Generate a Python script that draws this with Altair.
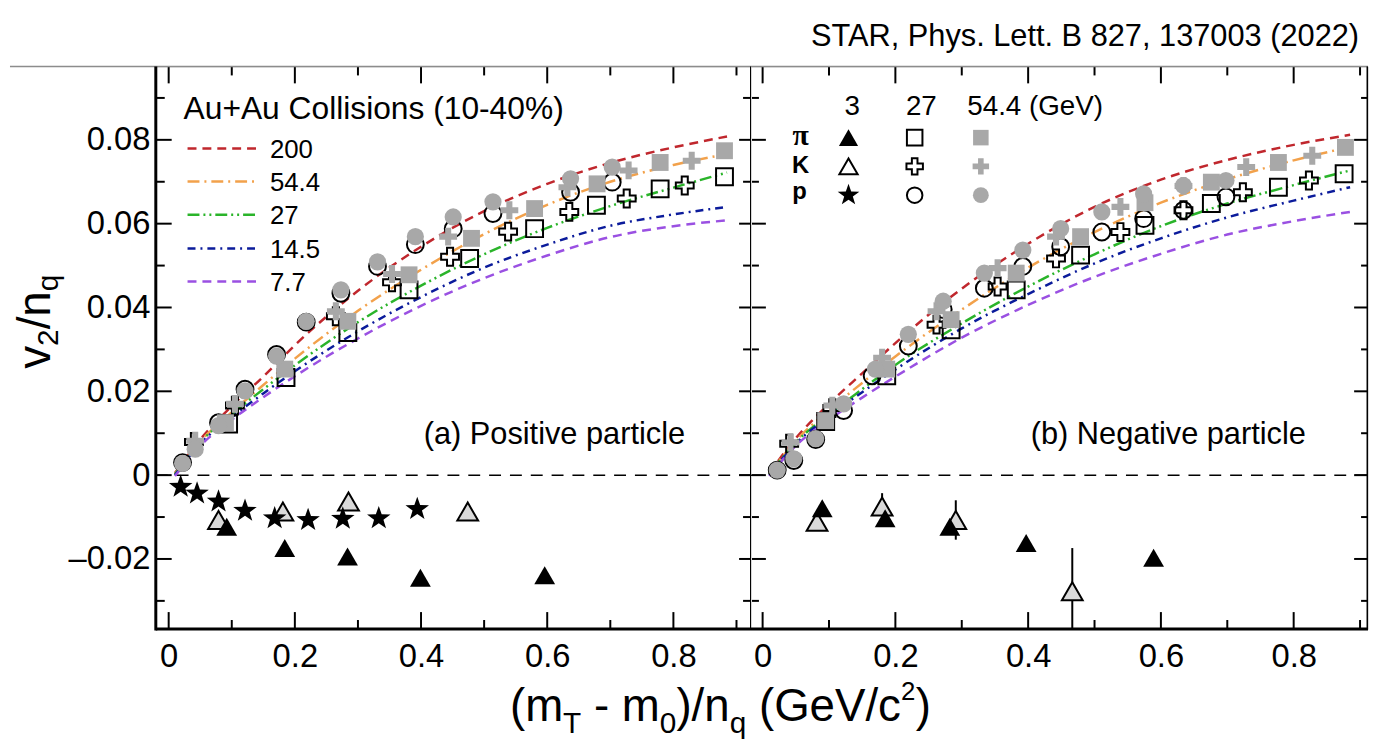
import altair as alt
import pandas as pd

FONT = "Liberation Sans"
H = 567
W_L, W_R = 600, 622
Y_DOMAIN = [-0.0367, 0.0975]
X_DOMAIN_L = [-0.0204, 0.923]
X_DOMAIN_R = [-0.0175, 0.912]

# ---------------- data: positive particles (left panel) ----------------
L_pi27_x = [0.095, 0.186, 0.284, 0.381, 0.477, 0.580, 0.678, 0.779, 0.881]
L_pi27_y = [0.0122, 0.0233, 0.0340, 0.0442, 0.0517, 0.0588, 0.0644, 0.0683, 0.0712]
L_pi54_x = [0.090, 0.184, 0.284, 0.381, 0.480, 0.580, 0.679, 0.779, 0.881]
L_pi54_y = [0.0125, 0.0253, 0.0367, 0.0478, 0.0565, 0.0636, 0.0695, 0.0746, 0.0774]
L_K27_x = [0.040, 0.105, 0.265, 0.354, 0.446, 0.538, 0.635, 0.726, 0.818]
L_K27_y = [0.0079, 0.0166, 0.0379, 0.0460, 0.0521, 0.0581, 0.0628, 0.0660, 0.0691]
L_K54_x = [0.042, 0.105, 0.265, 0.354, 0.443, 0.540, 0.632, 0.729, 0.829]
L_K54_y = [0.0082, 0.0170, 0.0391, 0.0480, 0.0569, 0.0632, 0.0687, 0.0727, 0.0750]
L_p27_x = [0.022, 0.079, 0.121, 0.171, 0.218, 0.273, 0.331, 0.391, 0.451, 0.514, 0.637, 0.703]
L_p27_y = [0.0030, 0.0125, 0.0205, 0.0288, 0.0365, 0.0434, 0.0498, 0.0550, 0.0588, 0.0624, 0.0675, 0.0699]
L_p54_x = [0.022, 0.042, 0.079, 0.121, 0.171, 0.218, 0.273, 0.331, 0.391, 0.451, 0.514, 0.637, 0.703]
L_p54_y = [0.0028, 0.0062, 0.0118, 0.0201, 0.0284, 0.0367, 0.0442, 0.0509, 0.0569, 0.0616, 0.0652, 0.0707, 0.0735]
L_pi3_x = [0.092, 0.184, 0.2835, 0.399, 0.596]
L_pi3_y = [-0.0123, -0.0174, -0.0194, -0.0245, -0.0239]
L_K3_x = [0.079, 0.181, 0.285, 0.474]
L_K3_y = [-0.0107, -0.0087, -0.0063, -0.0087]
L_p3_x = [0.019, 0.045, 0.079, 0.121, 0.168, 0.221, 0.276, 0.333, 0.394]
L_p3_y = [-0.0028, -0.0044, -0.0063, -0.0085, -0.0103, -0.0107, -0.0104, -0.0103, -0.0081]

# ---------------- data: negative particles (right panel) ----------------
R_pi27_x = [0.095, 0.187, 0.284, 0.382, 0.479, 0.576, 0.676, 0.777, 0.876]
R_pi27_y = [0.0128, 0.0237, 0.0347, 0.0442, 0.0525, 0.0596, 0.0648, 0.0687, 0.0719]
R_pi54_x = [0.095, 0.187, 0.284, 0.382, 0.479, 0.576, 0.676, 0.777, 0.878]
R_pi54_y = [0.0130, 0.0253, 0.0371, 0.0482, 0.0569, 0.0650, 0.0699, 0.0746, 0.0782]
R_K27_x = [0.040, 0.105, 0.262, 0.354, 0.442, 0.539, 0.634, 0.7235, 0.823]
R_K27_y = [0.0075, 0.0160, 0.0359, 0.0450, 0.0517, 0.0580, 0.0632, 0.0675, 0.0703]
R_K54_x = [0.042, 0.105, 0.180, 0.262, 0.354, 0.442, 0.539, 0.634, 0.7285, 0.828]
R_K54_y = [0.0078, 0.0166, 0.0280, 0.0391, 0.0494, 0.0569, 0.0640, 0.0690, 0.0735, 0.0762]
R_p27_x = [0.022, 0.047, 0.080, 0.122, 0.165, 0.2195, 0.272, 0.334, 0.392, 0.449, 0.511, 0.574, 0.634, 0.698]
R_p27_y = [0.0012, 0.0035, 0.0085, 0.0154, 0.0237, 0.0308, 0.0395, 0.0446, 0.0498, 0.0545, 0.0580, 0.0612, 0.0632, 0.0664]
R_p54_x = [0.022, 0.047, 0.080, 0.122, 0.170, 0.2195, 0.272, 0.334, 0.392, 0.449, 0.511, 0.574, 0.634, 0.698]
R_p54_y = [0.0012, 0.0039, 0.0087, 0.0170, 0.0253, 0.0336, 0.0415, 0.0482, 0.0537, 0.0588, 0.0628, 0.0671, 0.0691, 0.0703]
R_pi3_x = [0.0898, 0.1846, 0.282, 0.397, 0.589]
R_pi3_y = [-0.0079, -0.0103, -0.0123, -0.0162, -0.0197]
R_K3_x = [0.082, 0.180, 0.291, 0.4665]
R_K3_y = [-0.0111, -0.0075, -0.0107, -0.0277]
R_K3_err = [0.0012, 0.0032, 0.0047, 0.0103]

# ---------------- model curves ----------------
CURVE_X = [0.01, 0.05, 0.10, 0.15, 0.20, 0.30, 0.40, 0.50, 0.60, 0.70, 0.80, 0.885]
ENERGIES = ["200", "54.4", "27", "14.5", "7.7"]
CURVES_L = [
    [0.0005, 0.0085, 0.0165, 0.0235, 0.0310, 0.0440, 0.0545, 0.0630, 0.0695, 0.0745, 0.0782, 0.0808],
    [0.0003, 0.0080, 0.0150, 0.0215, 0.0278, 0.0392, 0.0490, 0.0575, 0.0645, 0.0700, 0.0740, 0.0766],
    [0.0002, 0.0078, 0.0145, 0.0205, 0.0262, 0.0365, 0.0452, 0.0527, 0.0590, 0.0642, 0.0686, 0.0722],
    [0.0000, 0.0075, 0.0138, 0.0195, 0.0248, 0.0343, 0.0425, 0.0495, 0.0550, 0.0595, 0.0622, 0.0640],
    [-0.0002, 0.0070, 0.0132, 0.0186, 0.0236, 0.0326, 0.0404, 0.0470, 0.0524, 0.0568, 0.0594, 0.0608],
]
CURVES_R = [
    [0.0005, 0.0088, 0.0170, 0.0243, 0.0315, 0.0445, 0.0552, 0.0640, 0.0705, 0.0752, 0.0788, 0.0812],
    [0.0003, 0.0082, 0.0155, 0.0220, 0.0283, 0.0395, 0.0495, 0.0580, 0.0650, 0.0706, 0.0751, 0.0783],
    [0.0002, 0.0078, 0.0145, 0.0205, 0.0263, 0.0362, 0.0450, 0.0527, 0.0594, 0.0648, 0.0692, 0.0727],
    [0.0000, 0.0075, 0.0140, 0.0198, 0.0252, 0.0350, 0.0432, 0.0505, 0.0565, 0.0615, 0.0655, 0.0687],
    [-0.0002, 0.0070, 0.0132, 0.0185, 0.0235, 0.0328, 0.0406, 0.0473, 0.0528, 0.0574, 0.0606, 0.0628],
]
COLORS = ["#c0272d", "#f2a14b", "#2ab42a", "#0b1b9b", "#9a50e2"]
DASHES = [[9, 6], [12, 5, 2, 5], [12, 4, 2, 4, 2, 4], [8, 5, 2, 5], [9, 6]]

# ticks
Y_MAJOR = [-0.02, 0.0, 0.02, 0.04, 0.06, 0.08]
Y_MINOR = [-0.03, -0.01, 0.01, 0.03, 0.05, 0.07, 0.09]
X_MAJOR = [0.0, 0.2, 0.4, 0.6, 0.8]
X_MINOR = [0.1, 0.3, 0.5, 0.7, 0.9]

GRAY = "#a8a8a8"
PLUS = "M-0.34,-1H0.34V-0.34H1V0.34H0.34V1H-0.34V0.34H-1V-0.34H-0.34Z"
STAR = ("M0,-1L0.235,-0.324L0.951,-0.309L0.380,0.124L0.588,0.809L0,0.4"
        "L-0.588,0.809L-0.380,0.124L-0.951,-0.309L-0.235,-0.324Z")

S_OPEN_SQ = dict(shape="square", size=289, filled=False, stroke="black", strokeWidth=2, opacity=1)
S_GRAY_SQ = dict(shape="square", size=289, filled=True, fill=GRAY, strokeWidth=0, opacity=1)
S_OPEN_PL = dict(shape=PLUS, size=324, filled=False, stroke="black", strokeWidth=2, opacity=1)
S_GRAY_PL = dict(shape=PLUS, size=324, filled=True, fill=GRAY, strokeWidth=0, opacity=1)
S_OPEN_CI = dict(shape="circle", size=289, filled=False, stroke="black", strokeWidth=2, opacity=1)
S_GRAY_CI = dict(shape="circle", size=300, filled=True, fill=GRAY, strokeWidth=0, opacity=1)
S_BLK_TRI = dict(shape="triangle-up", size=440, filled=True, fill="black", strokeWidth=0, opacity=1)
S_OPEN_TRI = dict(shape="triangle-up", size=440, filled=True, fill="#d9d9d9", stroke="black", strokeWidth=2, opacity=1)
S_LEG_TRI = dict(shape="triangle-up", size=400, filled=True, fill="white", stroke="black", strokeWidth=2, opacity=1)
S_STAR = dict(shape=STAR, size=620, filled=True, fill="black", strokeWidth=0, opacity=1)

ONE = pd.DataFrame({"d": [0]})


def txt(s, x, y, size, align="left", angle=0, weight="normal", font=FONT):
    return alt.Chart(pd.DataFrame({"t": [s]})).mark_text(
        align=align, baseline="alphabetic", fontSize=size, font=font,
        fontWeight=weight, angle=angle, color="black"
    ).encode(x=alt.value(x), y=alt.value(y), text="t:N")


def hline(x1, x2, y, width, color="black"):
    return alt.Chart(ONE).mark_rule(color=color, strokeWidth=width).encode(
        x=alt.value(x1), x2=alt.value(x2), y=alt.value(y))


def vline(x, y1, y2, width, color="black"):
    return alt.Chart(ONE).mark_rule(color=color, strokeWidth=width).encode(
        x=alt.value(x), y=alt.value(y1), y2=alt.value(y2))


def panel(side):
    left = side == "L"
    W = W_L if left else W_R
    xs = alt.Scale(domain=X_DOMAIN_L if left else X_DOMAIN_R, nice=False, zero=False)
    ys = alt.Scale(domain=Y_DOMAIN, nice=False, zero=False)
    xaxis = alt.Axis(values=X_MAJOR, title=None, grid=False, domain=False, ticks=False, tickSize=0,
                     labelExpr="abs(datum.value) < 1e-9 ? '0' : format(datum.value, '.1f')",
                     labelPadding=12, labelFontSize=33, labelFont=FONT, labelColor="black",
                     labelFlush=False, labelOverlap=False)
    if left:
        yaxis = alt.Axis(values=Y_MAJOR, title=None, grid=False, domain=False, ticks=False, tickSize=0,
                         labelExpr="abs(datum.value) < 1e-9 ? '0' : (datum.value < 0 ? '\u2013' + format(-datum.value, '.2f') : format(datum.value, '.2f'))",
                         labelPadding=6, labelFontSize=33, labelFont=FONT, labelColor="black",
                         labelFlush=False, labelOverlap=False)
    else:
        yaxis = None
    X = alt.X("x:Q", scale=xs, axis=xaxis)
    Y = alt.Y("y:Q", scale=ys, axis=yaxis)

    def pts(xv, yv, style):
        return alt.Chart(pd.DataFrame({"x": xv, "y": yv})).mark_point(**style).encode(x=X, y=Y)

    layers = []
    # zero line
    layers.append(alt.Chart(pd.DataFrame({"y": [0.0]})).mark_rule(
        color="black", strokeWidth=1.5, strokeDash=[12, 9]).encode(
        y=Y, x=alt.value(0), x2=alt.value(W)))
    # curves
    curves = CURVES_L if left else CURVES_R
    for cy, col, dash in zip(curves, COLORS, DASHES):
        layers.append(alt.Chart(pd.DataFrame({"x": CURVE_X, "y": cy})).mark_line(
            color=col, strokeDash=dash, strokeWidth=2.5, interpolate="monotone").encode(x=X, y=Y))
    if left:
        layers += [
            pts(L_K3_x, L_K3_y, S_OPEN_TRI),
            pts(L_pi3_x, L_pi3_y, S_BLK_TRI),
            pts(L_p3_x, L_p3_y, S_STAR),
            pts(L_pi27_x, L_pi27_y, S_OPEN_SQ),
            pts(L_K27_x, L_K27_y, S_OPEN_PL),
            pts(L_p27_x, L_p27_y, S_OPEN_CI),
            pts(L_pi54_x, L_pi54_y, S_GRAY_SQ),
            pts(L_K54_x, L_K54_y, S_GRAY_PL),
            pts(L_p54_x, L_p54_y, S_GRAY_CI),
        ]
    else:
        err = pd.DataFrame({"x": R_K3_x, "y": R_K3_y, "e": R_K3_err})
        layers.append(alt.Chart(err).transform_calculate(
            lo="datum.y - datum.e", hi="datum.y + datum.e").mark_rule(
            color="black", strokeWidth=2, clip=True).encode(
            x=X, y=alt.Y("lo:Q", scale=ys, axis=None), y2="hi:Q"))
        layers += [
            pts(R_K3_x, R_K3_y, S_OPEN_TRI),
            pts(R_pi3_x, R_pi3_y, S_BLK_TRI),
            pts(R_pi27_x, R_pi27_y, S_OPEN_SQ),
            pts(R_K27_x, R_K27_y, S_OPEN_PL),
            pts(R_p27_x, R_p27_y, S_OPEN_CI),
            pts(R_pi54_x, R_pi54_y, S_GRAY_SQ),
            pts(R_K54_x, R_K54_y, S_GRAY_PL),
            pts(R_p54_x, R_p54_y, S_GRAY_CI),
        ]

    # ticks along x (bottom and top)
    for vals, ln in ((X_MAJOR, 17), (X_MINOR, 9)):
        df = pd.DataFrame({"x": vals})
        layers.append(alt.Chart(df).mark_rule(color="black", strokeWidth=2).encode(
            x=X, y=alt.value(H - ln), y2=alt.value(H)))
        layers.append(alt.Chart(df).mark_rule(color="black", strokeWidth=2).encode(
            x=X, y=alt.value(0), y2=alt.value(ln)))
    # ticks along y
    for vals, ln, sep in ((Y_MAJOR, 16, (12, 15)), (Y_MINOR, 9, (8, 8))):
        df = pd.DataFrame({"y": vals})
        if left:
            layers.append(alt.Chart(df).mark_rule(color="black", strokeWidth=2).encode(
                y=Y, x=alt.value(0), x2=alt.value(ln)))
            layers.append(alt.Chart(df).mark_rule(color="black", strokeWidth=2).encode(
                y=Y, x=alt.value(W - sep[0]), x2=alt.value(W + sep[1])))
        else:
            layers.append(alt.Chart(df).mark_rule(color="black", strokeWidth=2).encode(
                y=Y, x=alt.value(W - ln + 2), x2=alt.value(W)))

    # frame
    if left:
        layers.append(hline(-147, W, 0, 1.5, "#8c8c8c"))
        layers.append(vline(0, 0, H + 1.5, 3))
        layers.append(hline(0, W, H, 3))
        layers.append(vline(W, 0, H, 2))
    else:
        layers.append(hline(0, W, 0, 1.5, "#8c8c8c"))
        layers.append(hline(0, W, H, 3))
        layers.append(vline(W - 0.75, 0, H, 1.5))

    if left:
        # bounds marker (invisible on white)
        layers.append(vline(-146.5, -55, -54, 1, "white"))
        # legend
        layers.append(txt("Au+Au Collisions (10-40%)", 28, 53, 32))
        rows = [82.7, 116.0, 149.4, 183.4, 216.7]
        for ry, e, col, dash in zip(rows, ENERGIES, COLORS, DASHES):
            layers.append(alt.Chart(ONE).mark_rule(color=col, strokeWidth=2.5, strokeDash=dash).encode(
                x=alt.value(32), x2=alt.value(102), y=alt.value(ry)))
            layers.append(txt(e, 115, ry + 9.3, 26))
        layers.append(txt("(a) Positive particle", 270, 381, 31))
        # y title  v2/nq  (rotated)
        layers.append(txt("v", -107, 304.7, 46, angle=270))
        layers.append(txt("2", -99, 281.7, 30, angle=270))
        layers.append(txt("/n", -107, 265.0, 46, angle=270))
        layers.append(txt("q", -99, 226.6, 30, angle=270))
        # x title (m_T - m_0)/n_q (GeV/c^2)
        base = 660.0
        sub = base + 12
        sup = base - 21
        layers += [
            txt("(m", 357, base, 46),
            txt("T", 410.6, sub, 30),
            txt("-", 441.7, base, 46),
            txt("m", 469.8, base, 46),
            txt("0", 508.1, sub, 30),
            txt(")/n", 524.8, base, 46),
            txt("q", 578.5, sub, 30),
            txt("(GeV/c", 608.0, base, 46),
            txt("2", 751.2, sup, 26),
            txt(")", 766.0, base, 46),
        ]
    else:
        layers.append(txt("STAR, Phys. Lett. B 827, 137003 (2022)", 613, -20.3, 31, align="right"))
        layers.append(txt("(b) Negative particle", 282, 381, 31))
        layers.append(txt("3", 102, 48.4, 28, align="center"))
        layers.append(txt("27", 171.7, 48.4, 28, align="center"))
        layers.append(txt("54.4 (GeV)", 218, 48.4, 28))
        layers.append(txt("\u03c0", 50, 78.7, 30, align="center", weight="bold", font="Liberation Serif"))
        layers.append(txt("K", 50, 107.7, 24, align="center", weight="bold"))
        layers.append(txt("p", 49, 133.5, 24, align="center", weight="bold"))
        cols = [98.3, 165.0, 231.7]
        rws = [71.7, 100.7, 129.7]
        grid = [
            [S_BLK_TRI, S_OPEN_SQ, S_GRAY_SQ],
            [S_LEG_TRI, S_OPEN_PL, S_GRAY_PL],
            [S_STAR, S_OPEN_CI, S_GRAY_CI],
        ]
        for ry, rowstyles in zip(rws, grid):
            for cx, st in zip(cols, rowstyles):
                st2 = dict(st)
                st2["size"] = int(st["size"] * 0.85)
                layers.append(alt.Chart(ONE).mark_point(**st2).encode(
                    x=alt.value(cx), y=alt.value(ry)))

    return alt.layer(*layers).properties(width=W, height=H)


chart = alt.hconcat(panel("L"), panel("R"), spacing=0, bounds="flush", padding=0).configure_view(
    stroke=None).configure(font=FONT)

chart.save("out.html", embed_options={"renderer": "svg", "actions": False})
